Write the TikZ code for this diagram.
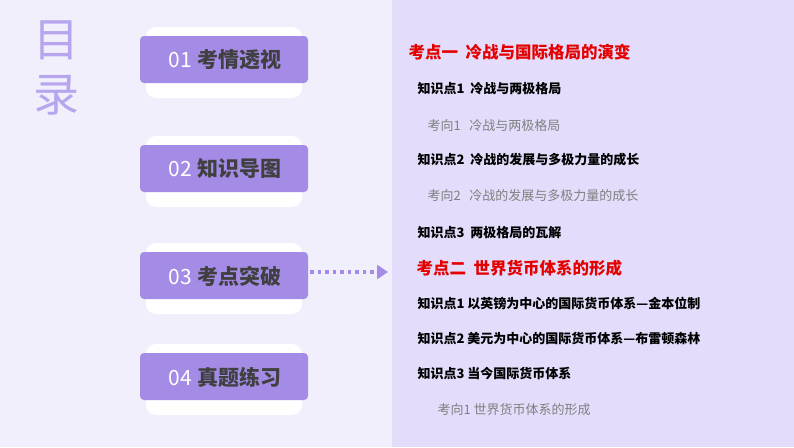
\documentclass[tikz,border=0pt]{standalone}
\usepackage{fontspec}
\usetikzlibrary{arrows.meta}
\setmainfont{Noto Sans CJK SC}
\newfontfamily\cjk{Noto Sans CJK SC}
\begin{document}
\begin{tikzpicture}[x=1pt,y=-1pt,
  card/.style={fill=white,rounded corners=10pt},
  head/.style={anchor=west,text=red!90!black,font=\cjk\bfseries\fontsize{16.5}{16.5}\selectfont},
  kp/.style={anchor=west,font=\cjk\fontsize{13}{13}\selectfont},
  kx/.style={anchor=west,text=gray,font=\cjk\fontsize{13}{13}\selectfont}]
\definecolor{bgl}{HTML}{F1EFFC}\definecolor{bgr}{HTML}{E3DCFA}
\definecolor{pb}{HTML}{A48BE6}\definecolor{tt}{HTML}{B7A6EE}
\fill[bgl] (0,0) rectangle (794,447);
\fill[bgr] (392,0) rectangle (794,447);
\useasboundingbox (0,0) rectangle (794,447);
\node[text=tt,font=\cjk\fontsize{46}{46}\selectfont] (t1) at (56,40) {目};
\node[text=tt,font=\cjk\fontsize{46}{46}\selectfont] (t2) at (56,95) {录};
\foreach \y/\n/\s in {67/01/考情透视,176/02/知识导图,283/03/考点突破,384/04/真题练习}{
  \fill[card] (146,\y-40) rectangle (302,\y+31);
  \fill[pb,rounded corners=4pt] (140,\y-31) rectangle (308,\y+16);
  \node[font=\cjk\fontsize{21}{21}\selectfont,anchor=center] (b\n) at (225,\y-7)
    {\textcolor{white}{\n}\ \textcolor{black!75}{\bfseries\s}};
}
\coordinate (as) at (310,272);\coordinate (ae) at (388,272);
\draw[pb,line width=3.5pt,dash pattern=on 3.5pt off 4pt,-{Triangle[length=11pt,width=14pt]}] (as)--(ae);
\node[head] (h1) at (405,52) {考点一\ \ 冷战与国际格局的演变};
\node[kp] (k1) at (414,89) {\bfseries 知识点1\ \ 冷战与两极格局};
\node[kx] (x1) at (424,126) {考向1\ \ \ 冷战与两极格局};
\node[kp] (k2) at (414,160) {\bfseries 知识点2\ \ 冷战的发展与多极力量的成长};
\node[kx] (x2) at (424,196) {考向2\ \ \ 冷战的发展与多极力量的成长};
\node[kp] (k3) at (414,233) {\bfseries 知识点3\ \ 两极格局的瓦解};
\node[head] (h2) at (413,268) {考点二\ \ 世界货币体系的形成};
\node[kp] (k4) at (414,303) {\bfseries 知识点1\ 以英镑为中心的国际货币体系—金本位制};
\node[kp] (k5) at (414,339) {\bfseries 知识点2\ 美元为中心的国际货币体系—布雷顿森林};
\node[kp] (k6) at (414,374) {\bfseries 知识点3\ 当今国际货币体系};
\node[kx] (x3) at (434,410) {考向1\ 世界货币体系的形成};
\end{tikzpicture}
\end{document}
